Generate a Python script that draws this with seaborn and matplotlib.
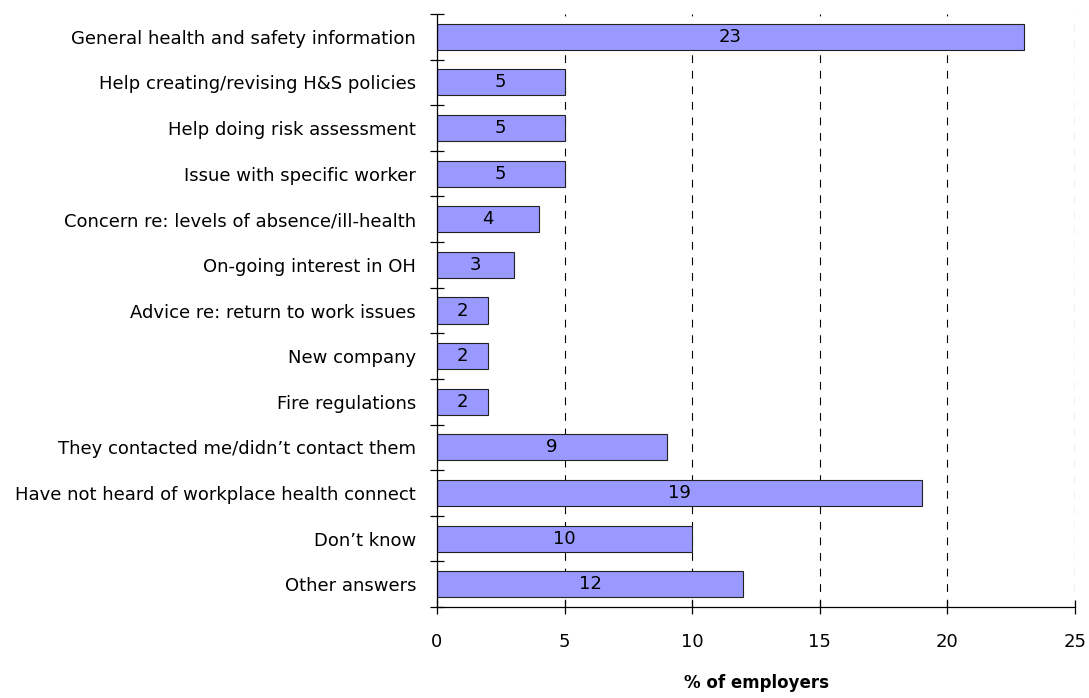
import matplotlib
matplotlib.use("Agg")
import matplotlib.pyplot as plt
import seaborn as sns
import pandas as pd
import numpy as np

categories = [
    "General health and safety information",
    "Help creating/revising H&S policies",
    "Help doing risk assessment",
    "Issue with specific worker",
    "Concern re: levels of absence/ill-health",
    "On-going interest in OH",
    "Advice re: return to work issues",
    "New company",
    "Fire regulations",
    "They contacted me/didn\u2019t contact them",
    "Have not heard of workplace health connect",
    "Don\u2019t know",
    "Other answers",
]
values = [23, 5, 5, 5, 4, 3, 2, 2, 2, 9, 19, 10, 12]
xticks = [0, 5, 10, 15, 20, 25]

sns.set_style("white")
plt.rcParams['font.family'] = ['DejaVu Sans']
plt.rcParams['text.color'] = 'black'
plt.rcParams['xtick.color'] = 'black'
plt.rcParams['ytick.color'] = 'black'
plt.rcParams['axes.labelcolor'] = 'black'

FS = 13

df = pd.DataFrame({"cat": categories, "val": values})

fig = plt.figure(figsize=(10.89, 6.98), dpi=100)
ax = fig.add_axes([437/1089, 1 - 607/698, (1075-437)/1089, (607-14)/698])

sns.barplot(data=df, y="cat", x="val", orient="h", color="#9999FF",
            saturation=1, edgecolor="#222222", linewidth=0.8, width=0.57, ax=ax)

for i, v in enumerate(values):
    ax.text(v / 2, i, str(v), ha="center", va="center", fontsize=FS, color="black")

ax.set_xlim(0, 25)
ax.set_ylim(len(categories) - 0.5, -0.5)
ax.set_xticks(xticks)
ax.set_xticklabels([str(t) for t in xticks], fontsize=FS)
for t in xticks[1:]:
    ax.axvline(t, color="black", linestyle=(0, (7, 7)), linewidth=0.8, zorder=0)

ax.set_yticks(range(len(categories)))
ax.set_yticklabels(categories, fontsize=FS)
ax.tick_params(axis="y", which="major", left=True, length=0, pad=15)
ax.set_yticks(np.arange(-0.5, len(categories), 1.0), minor=True)
ax.tick_params(axis="y", which="minor", left=True, length=10, direction="inout", width=0.9)
ax.tick_params(axis="x", which="major", bottom=True, length=10, direction="inout", width=0.9, pad=14)

ax.set_xlabel("% of employers", fontsize=12, fontweight="bold")
ax.xaxis.set_label_coords(0.5, -(674 - 607) / 593)
ax.set_ylabel("")
sns.despine(ax=ax, top=True, right=True)
ax.spines["left"].set_color("black")
ax.spines["bottom"].set_color("black")
ax.spines["left"].set_linewidth(0.9)
ax.spines["bottom"].set_linewidth(0.9)

fig.savefig("out.png", dpi=100)
